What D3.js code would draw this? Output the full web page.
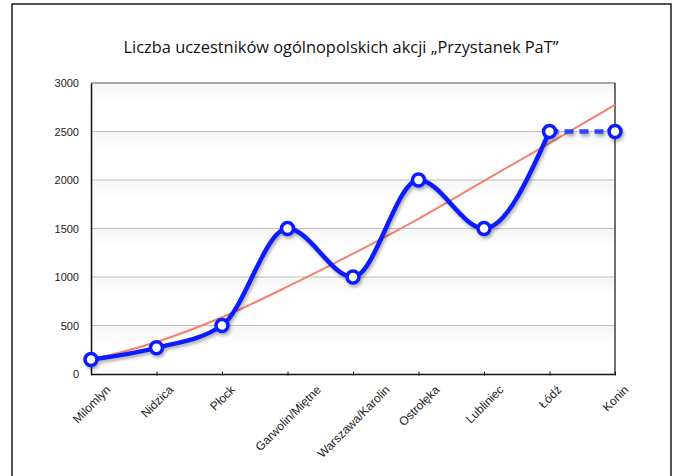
<!DOCTYPE html>
<html>
<head>
<meta charset="utf-8">
<script src="https://cdn.jsdelivr.net/npm/d3@7"></script>
<style>
  body { margin: 0; background: #fff; }
  svg { display: block; }
</style>
</head>
<body>
<div id="chart"></div>
<script>
// data
const categories = ["Milomlyn", "Nidzica", "Płock", "Garwolin/Miętne", "Warszawa/Karolin",
                    "Ostrołęka", "Lubliniec", "Łódź", "Konin"];
const participants = [150, 270, 500, 1500, 1000, 2000, 1500, 2500, 2500];
const trendValues = [145, 330, 585, 900, 1240, 1600, 1990, 2380, 2775];
const yTicks = [0, 500, 1000, 1500, 2000, 2500, 3000];
const title = "Liczba uczestników ogólnopolskich akcji „Przystanek PaT”";

var W = 675, H = 476;
var margin = {top: 83, right: 60, bottom: 102, left: 91},
    width = W - margin.left - margin.right,
    height = H - margin.top - margin.bottom;

var root = d3.select("#chart").append("svg")
    .attr("width", W)
    .attr("height", H);

// shadow under the blue line, gradient under grid lines
var defs = root.append("defs");
var shadow = defs.append("filter").attr("id", "shadow")
    .attr("x", "-10%").attr("y", "-10%").attr("width", "130%").attr("height", "130%");
shadow.append("feDropShadow")
    .attr("dx", 1.5).attr("dy", 2.5).attr("stdDeviation", 1.5)
    .attr("flood-color", "#000").attr("flood-opacity", 0.3);
var grad = defs.append("linearGradient").attr("id", "band")
    .attr("x1", 0).attr("y1", 0).attr("x2", 0).attr("y2", 1);
grad.append("stop").attr("offset", "0%").attr("stop-color", "#000").attr("stop-opacity", 0.035);
grad.append("stop").attr("offset", "100%").attr("stop-color", "#000").attr("stop-opacity", 0);

// outer frame (runs past the bottom edge in the reference)
root.append("rect")
    .attr("x", 12).attr("y", 4)
    .attr("width", 659).attr("height", 520)
    .attr("fill", "none")
    .attr("stroke", "#1a1a1a")
    .attr("stroke-width", 1.5);

root.append("text")
    .attr("x", 341)
    .attr("y", 53)
    .attr("text-anchor", "middle")
    .style("font-family", "'Open Sans', sans-serif")
    .style("font-size", "16.4px")
    .attr("fill", "#111")
    .text(title);

var svg = root.append("g")
    .attr("transform", `translate(${margin.left},${margin.top})`);

var x = d3.scalePoint()
    .domain(categories)
    .range([0, width]);

var y = d3.scaleLinear()
    .domain([0, 3000])
    .range([height, 0]);

// grid bands + lines
svg.append("g").selectAll("rect")
  .data(yTicks.filter(function(d) { return d > 0; }))
  .join("rect")
    .attr("x", 0)
    .attr("y", function(d) { return y(d); })
    .attr("width", width)
    .attr("height", 20)
    .attr("fill", "url(#band)");

svg.append("g").selectAll("line")
  .data(yTicks.filter(function(d) { return d > 0 && d < 3000; }))
  .join("line")
    .attr("x1", 0).attr("x2", width)
    .attr("y1", function(d) { return y(d); })
    .attr("y2", function(d) { return y(d); })
    .attr("stroke", "#bdbdbd")
    .attr("stroke-width", 1);

// plot frame
svg.append("line")
    .attr("x1", 0).attr("x2", width)
    .attr("y1", y(3000)).attr("y2", y(3000))
    .attr("stroke", "#555").attr("stroke-width", 1);
svg.append("line")
    .attr("x1", width).attr("x2", width)
    .attr("y1", y(3000)).attr("y2", height)
    .attr("stroke", "#111").attr("stroke-width", 1.2);

// y axis
var yAxis = svg.append("g")
    .call(d3.axisLeft(y).tickValues(yTicks).tickFormat(d3.format("d"))
        .tickSize(0).tickPadding(12));
yAxis.select(".domain").attr("stroke", "#111").attr("stroke-width", 1.5);
yAxis.selectAll("text")
    .style("font-family", "'Liberation Sans', Arial, sans-serif")
    .style("font-size", "11px")
    .attr("fill", "#222");

// x axis
var xAxis = svg.append("g")
    .attr("transform", `translate(0,${height})`)
    .call(d3.axisBottom(x).tickSize(-4).tickSizeOuter(0));
xAxis.select(".domain").attr("stroke", "#111").attr("stroke-width", 1.5);
xAxis.selectAll(".tick line").attr("stroke", "#111").attr("y2", -4).attr("transform", "translate(0,1.5)");
xAxis.selectAll(".tick text")
    .style("font-family", "'Liberation Sans', Arial, sans-serif")
    .style("font-size", "12px")
    .attr("fill", "#222")
    .attr("text-anchor", "middle")
    .attr("dy", "0.35em")
    .attr("y", 0)
    .attr("transform", function() {
        var w = this.getComputedTextLength();
        var cy = 10 + (w + 10) * Math.SQRT1_2 / 2;
        return `translate(0,${cy}) rotate(-45)`;
    });

// trend line
var trendLine = d3.line()
    .x(function(d, i) { return x(categories[i]); })
    .y(function(d) { return y(d); })
    .curve(d3.curveMonotoneX);

svg.append("path")
    .datum(trendValues)
    .attr("fill", "none")
    .attr("stroke", "#f7806c")
    .attr("stroke-width", 2)
    .attr("d", trendLine);

// participants line: solid up to Łódź, dashed on to Konin
var pts = participants.map(function(v, i) { return {cat: categories[i], v: v}; });
var line = d3.line()
    .x(function(d) { return x(d.cat); })
    .y(function(d) { return y(d.v); })
    .curve(d3.curveMonotoneX);

var series = svg.append("g").attr("filter", "url(#shadow)");

series.append("path")
    .datum(pts.slice(0, 8))
    .attr("fill", "none")
    .attr("stroke", "#0a1eff")
    .attr("stroke-width", 4.5)
    .attr("stroke-linejoin", "round")
    .attr("d", line);

series.append("path")
    .datum(pts.slice(7))
    .attr("fill", "none")
    .attr("stroke", "#2a44ff")
    .attr("stroke-width", 4.5)
    .attr("stroke-dasharray", "9,6")
    .attr("d", d3.line()
        .x(function(d) { return x(d.cat); })
        .y(function(d) { return y(d.v); }));

series.selectAll("circle")
  .data(pts)
  .join("circle")
    .attr("cx", function(d) { return x(d.cat); })
    .attr("cy", function(d) { return y(d.v); })
    .attr("r", 6)
    .attr("fill", "#fff")
    .attr("stroke", "#0a1eff")
    .attr("stroke-width", 3.5);
</script>
</body>
</html>
